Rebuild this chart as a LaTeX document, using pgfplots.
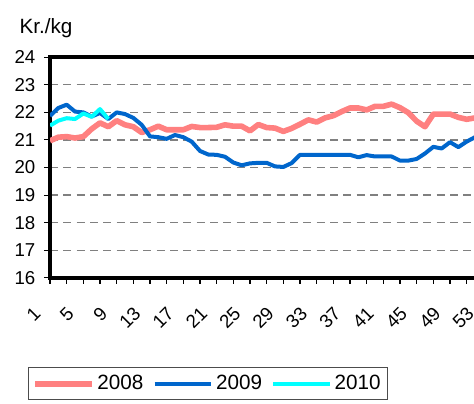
\documentclass[border=0pt]{standalone}
\usepackage{fontspec}
\setmainfont{Liberation Sans}
\usepackage{pgfplots}
\pgfplotsset{compat=1.18}
\definecolor{c08}{HTML}{FF8080}
\definecolor{c09}{HTML}{0066CC}
\definecolor{c10}{HTML}{00FFFF}
\begin{document}
\begin{tikzpicture}
\begin{axis}[
  at={(0pt,0pt)}, anchor=south west,
  scale only axis, width=331.25pt, height=165.3pt,
  xmin=1, xmax=54, ymin=16, ymax=24,
  axis line style={line width=3pt, black},
  xtick={1,5,...,53},
  minor xtick={3,7,...,51},
  ytick={16,17,...,24},
  xtick pos=bottom, ytick pos=left,
  tick align=outside,
  tick style={black, line width=0.8pt},
  major tick length=4.5pt,
  minor tick length=4.5pt,
  ymajorgrids,
  major grid style={dash pattern=on 6pt off 4pt, gray, line width=0.9pt},
  tick label style={font=\fontsize{14}{16}\selectfont},
  x tick label style={xshift=-9.5pt, yshift=-20pt, rotate=45, anchor=east, inner sep=0pt},
  y tick label style={xshift=-3pt},
  /pgf/number format/assume math mode=true,
  legend columns=3,
  legend style={at={(-0.0498,-0.4052)}, anchor=north west, draw=black!70, line width=0.75pt,
    font=\fontsize{15.5}{18}\selectfont, inner xsep=3pt, inner ysep=4pt,
    /tikz/every even column/.append style={column sep=5pt}},
  legend image code/.code={\draw[#1] (0pt,0pt) -- (42.5pt,0pt);},
]
\addplot[c08, line width=4.2pt, line join=round] coordinates {
(1,20.97) (2,21.10) (3,21.12) (4,21.07) (5,21.12) (6,21.40) (7,21.62) (8,21.48) (9,21.70) (10,21.55)
(11,21.48) (12,21.27) (13,21.37) (14,21.50) (15,21.37) (16,21.37) (17,21.37) (18,21.49) (19,21.45) (20,21.45)
(21,21.46) (22,21.55) (23,21.50) (24,21.50) (25,21.33) (26,21.56) (27,21.45) (28,21.43) (29,21.31) (30,21.42)
(31,21.57) (32,21.73) (33,21.65) (34,21.80) (35,21.88) (36,22.03) (37,22.16) (38,22.16) (39,22.09) (40,22.22)
(41,22.22) (42,22.30) (43,22.17) (44,21.99) (45,21.68) (46,21.48) (47,21.94) (48,21.94) (49,21.94) (50,21.82)
(51,21.75) (52,21.80) (53,21.85)
};
\addlegendentry{2008}
\addplot[c09, line width=3pt, line join=round] coordinates {
(1,21.87) (2,22.16) (3,22.28) (4,22.03) (5,22.00) (6,21.85) (7,21.98) (8,21.76) (9,22.00) (10,21.94)
(11,21.80) (12,21.55) (13,21.13) (14,21.10) (15,21.04) (16,21.18) (17,21.10) (18,20.94) (19,20.60) (20,20.47)
(21,20.46) (22,20.39) (23,20.18) (24,20.08) (25,20.15) (26,20.17) (27,20.17) (28,20.04) (29,20.02) (30,20.16)
(31,20.46) (32,20.46) (33,20.46) (34,20.46) (35,20.46) (36,20.46) (37,20.46) (38,20.37) (39,20.45) (40,20.40)
(41,20.40) (42,20.40) (43,20.25) (44,20.25) (45,20.31) (46,20.51) (47,20.75) (48,20.69) (49,20.92) (50,20.74)
(51,20.94) (52,21.10) (53,21.25)
};
\addlegendentry{2009}
\addplot[c10, line width=3pt, line join=round] coordinates {
(1,21.52) (2,21.70) (3,21.79) (4,21.76) (5,21.96) (6,21.84) (7,22.12) (8,21.76)
};
\addlegendentry{2010}
\end{axis}
\node[anchor=base west, inner sep=0pt, font=\fontsize{15.5}{18}\selectfont] at (-23pt,182.8pt) {Kr./kg};
\pgfresetboundingbox
\useasboundingbox (-37.5pt,-93.975pt) rectangle (318pt,208.275pt);
\end{tikzpicture}
\end{document}
